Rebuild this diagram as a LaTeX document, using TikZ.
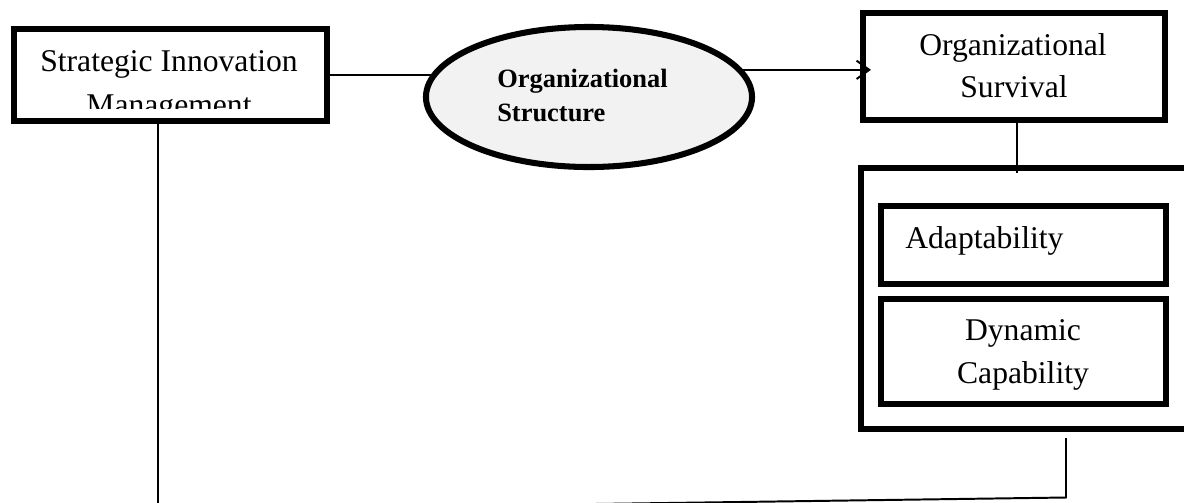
\documentclass[tikz,border=0pt]{standalone}
\usepackage{fontspec}
\setmainfont{Liberation Serif}
\usetikzlibrary{shapes.geometric,arrows.meta,calc}
\pgfdeclarelayer{bg}
\pgfdeclarelayer{lines}
\pgfsetlayers{bg,lines,main}
\definecolor{ellgray}{HTML}{F2F2F2}
\begin{document}
\begin{tikzpicture}[x=0.025cm,y=-0.025cm,
  thickbox/.style={draw, line width=4.3pt, rectangle, inner sep=0pt},
  ovalbox/.style={draw, line width=4.3pt, ellipse, fill=ellgray, inner sep=0pt},
  conn/.style={line width=1.4pt},
  lbl/.style={anchor=base, inner sep=0pt, font=\fontsize{22.5}{27}\selectfont},
  lblb/.style={anchor=base west, inner sep=0pt, font=\bfseries\fontsize{18.8}{22}\selectfont},
]
\useasboundingbox (0,0) rectangle (1184,502);
\clip (0,0) rectangle (1184,502);
\begin{pgfonlayer}{bg}
\fill[white] (0,0) rectangle (1184,502);
\end{pgfonlayer}

% boxes
\node[thickbox, minimum width=7.825cm, minimum height=2.3cm] (sim) at (170.5,75) {};
\node[ovalbox, minimum width=8.15cm, minimum height=3.5cm] (os) at (589,97) {};
\node[thickbox, minimum width=7.55cm, minimum height=2.675cm] (surv) at (1014,66.5) {};
\node[thickbox, minimum width=8.3375cm, minimum height=6.5cm] (cont) at (1028.25,298.5) {};
\node[thickbox, minimum width=7.125cm, minimum height=1.95cm] (adap) at (1023.5,245) {};
\node[thickbox, minimum width=7.125cm, minimum height=2.625cm] (dyn) at (1023.5,351.5) {};

% texts
\begin{scope}
\clip (17,30) rectangle (323,108);
\node[lbl] (t1) at (169,71) {Strategic Innovation};
\node[lbl] (t2) at (169,115) {Management};
\end{scope}
\node[lblb] (t3) at (497,87) {Organizational};
\node[lblb] (t4) at (497,121) {Structure};
\node[lbl] (t5) at (1013,55) {Organizational};
\node[lbl] (t6) at (1014,97) {Survival};
\node[lbl, anchor=base west] (t7) at (905,248) {Adaptability};
\node[lbl] (t8) at (1023,340) {Dynamic};
\node[lbl] (t9) at (1023,383) {Capability};

% connectors
\coordinate (v1) at ($(surv.south)+(3,0)$);
\coordinate (b1) at (1066,438);
\coordinate (b2) at (1066,497.5);
\coordinate (b3) at (158,510);
\begin{pgfonlayer}{lines}
\draw[conn] (sim.east) -- (os.center |- sim.east);
\draw[conn] (v1) -- ($(v1 |- cont.north)+(0,8)$);
\end{pgfonlayer}
\draw[conn, -{Straight Barb[length=9pt,width=13pt]}] (os.10) -- ($(surv.west |- os.10)+(11,0)$);
\draw[conn] (b1) -- (b2) -- (b3) -- (sim.south -| b3);
\end{tikzpicture}
\end{document}
